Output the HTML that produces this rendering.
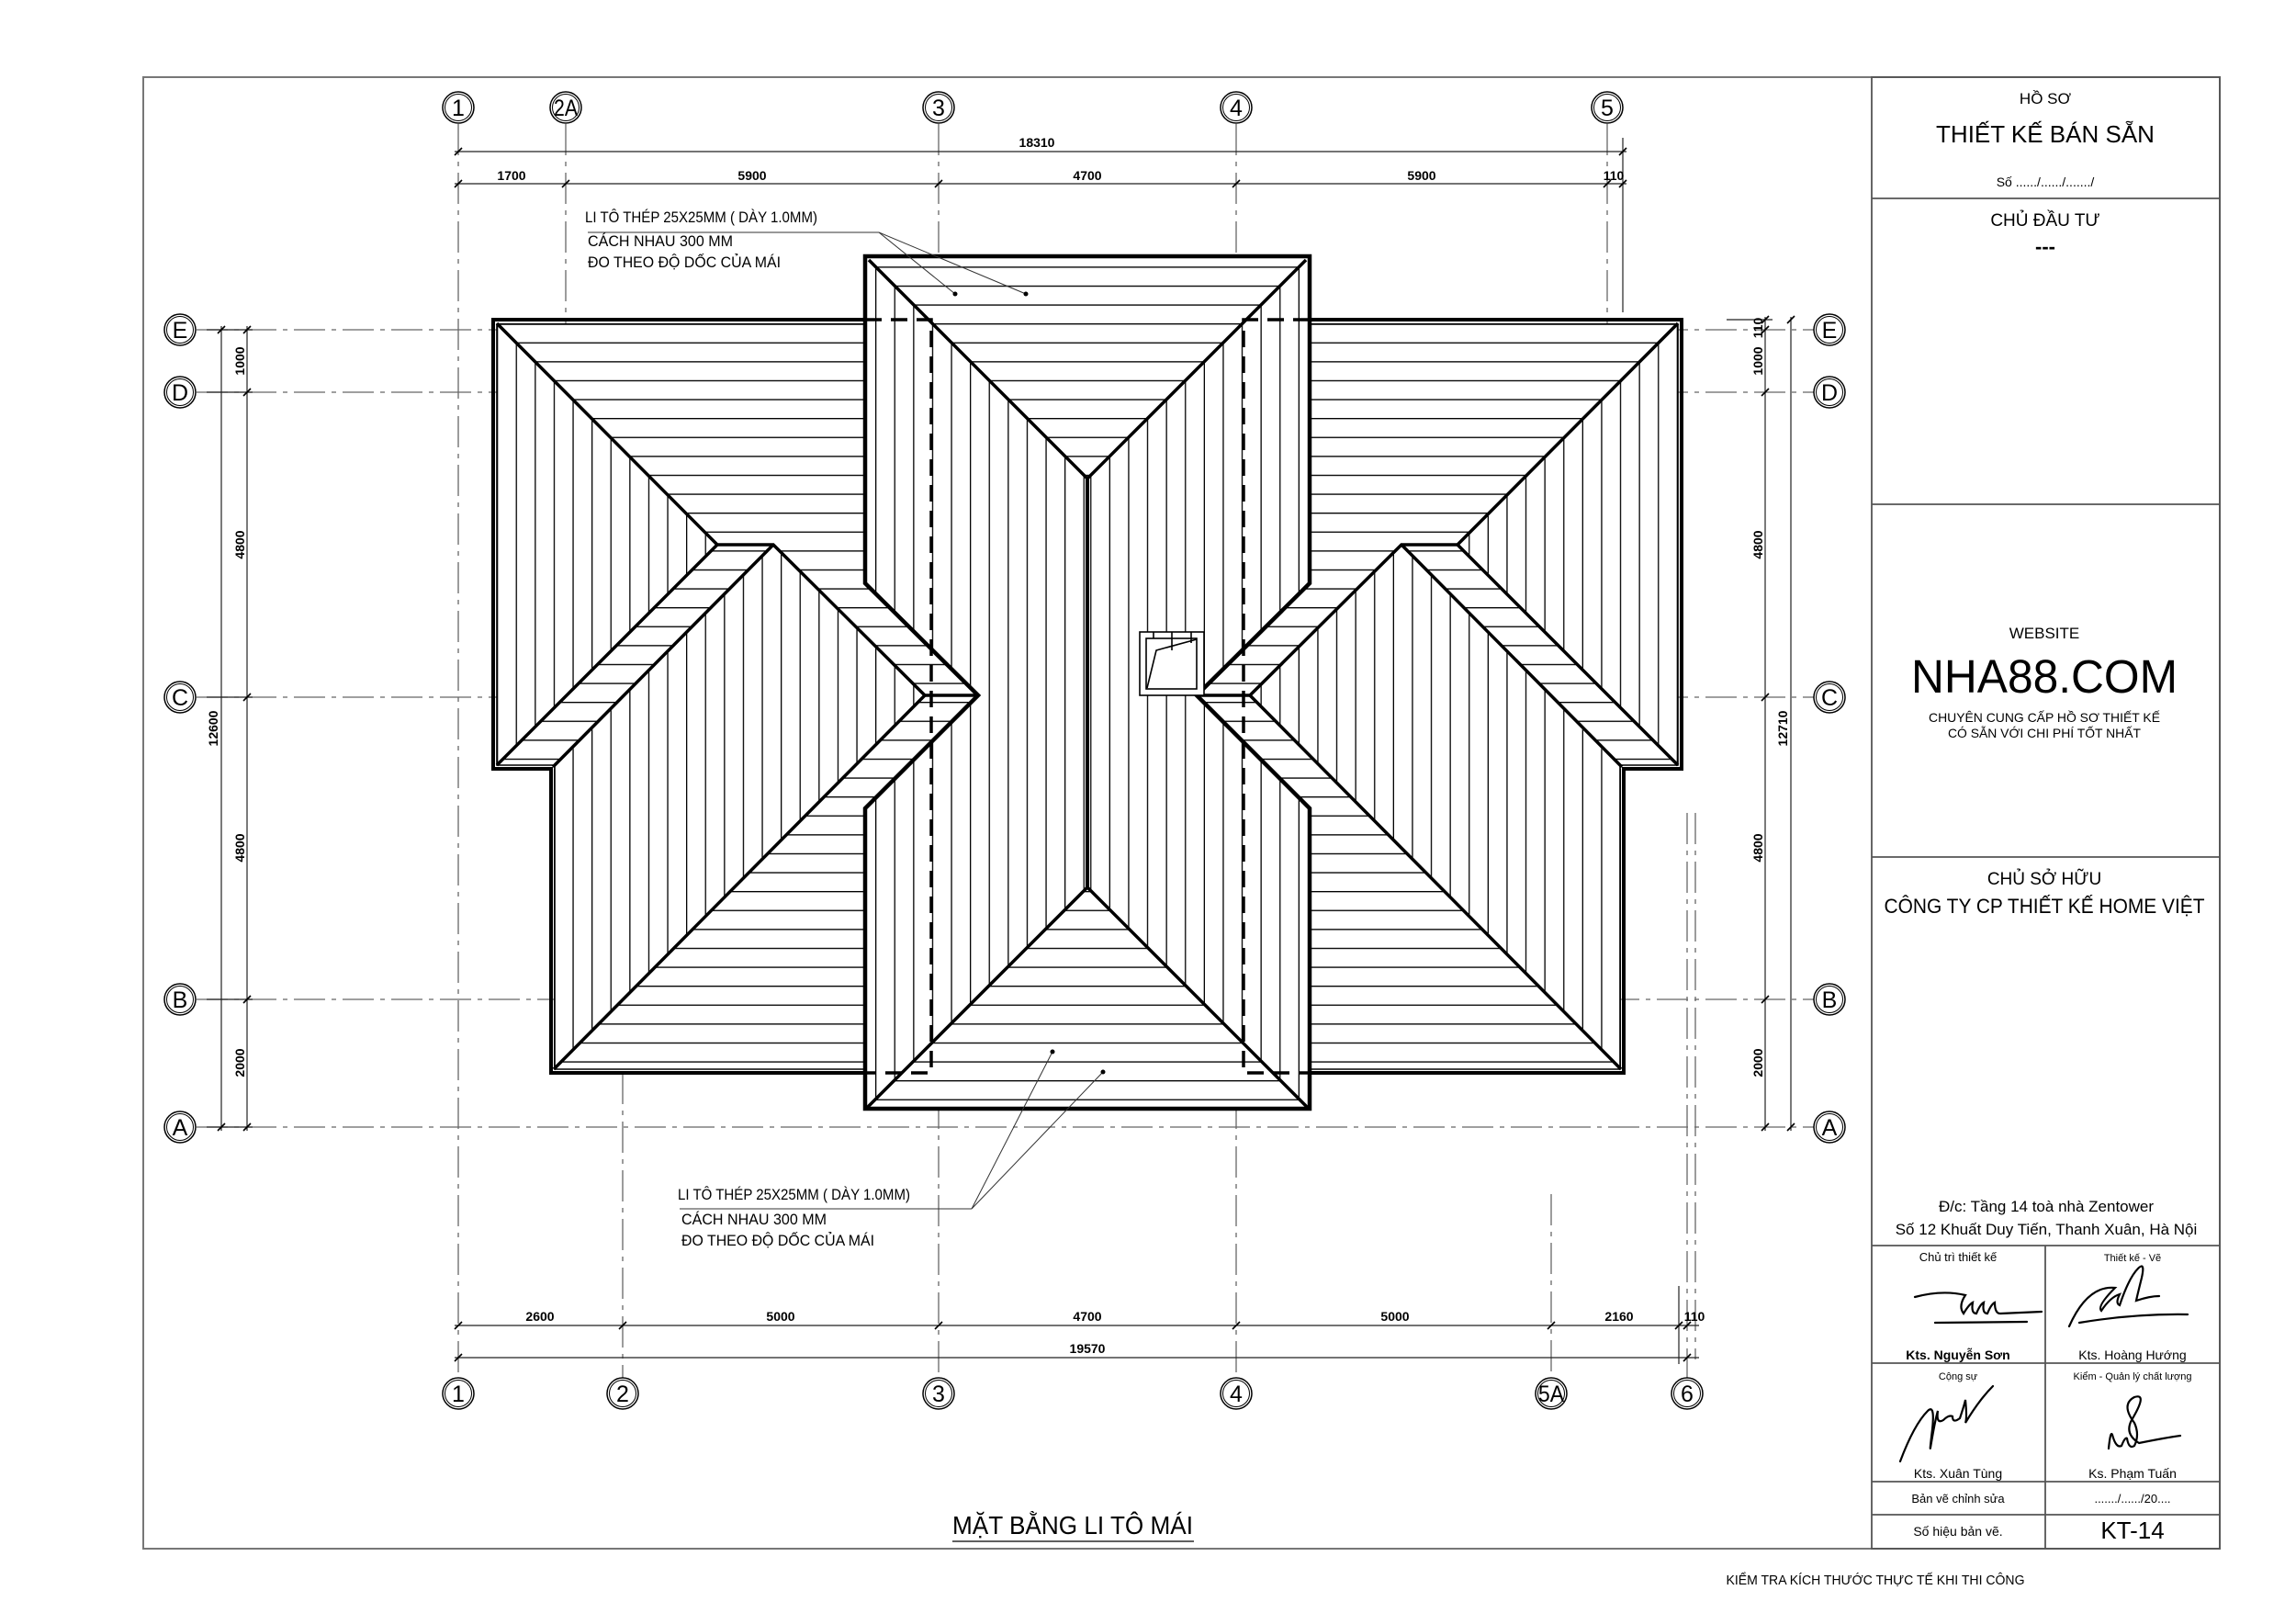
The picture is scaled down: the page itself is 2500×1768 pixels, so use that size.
<!DOCTYPE html>
<html><head><meta charset="utf-8"><style>
html,body{margin:0;padding:0;background:#fff}
svg{display:block}
text{font-family:"Liberation Sans",sans-serif;fill:#000}
</style></head><body>
<svg width="2500" height="1768" viewBox="0 0 2500 1768" xmlns="http://www.w3.org/2000/svg">
<defs>
<pattern id="ph" patternUnits="userSpaceOnUse" width="40" height="20.6" y="352"><rect width="40" height="20.6" fill="#fff"/><line x1="0" y1="0.6" x2="40" y2="0.6" stroke="#000" stroke-width="1.4"/></pattern>
<pattern id="pv" patternUnits="userSpaceOnUse" width="20.6" height="40" x="541"><rect width="20.6" height="40" fill="#fff"/><line x1="0.6" y1="0" x2="0.6" y2="40" stroke="#000" stroke-width="1.4"/></pattern>
<g id="half">
  <!-- center block left half -->
  <polygon points="942,279 1184,519 1184,966 942,1207" fill="url(#pv)"/>
  <polygon points="942,279 1184,279 1184,519" fill="url(#ph)"/>
  <polygon points="942,1207 1184,966 1184,1207" fill="url(#ph)"/>
  <!-- left wing -->
  <polygon points="541,352 942,352 942,635 1065,757 1007,757 842,593 781,593" fill="url(#ph)"/>
  <polygon points="541,352 781,593 541,834" fill="url(#pv)"/>
  <polygon points="781,593 842,593 600,835 541,835" fill="url(#ph)"/>
  <polygon points="842,593 1007,757 603,1164 603,837" fill="url(#pv)"/>
  <polygon points="1007,757 1065,757 942,880 942,822" fill="url(#ph)"/>
  <polygon points="942,822 942,1164 603,1164" fill="url(#ph)"/>
  <!-- thick lines -->
  <g stroke="#000" fill="none" stroke-linejoin="miter">
    <polyline points="1184,279 942,279 942,635 1065,757 942,880 942,1207 1184,1207" stroke-width="4.5"/>
    <polyline points="942,348 537,348 537,837 600,837 600,1168 942,1168" stroke-width="4"/>
    <polyline points="942,353 541,353 541,833 604,833 604,1164 942,1164" stroke-width="1.6"/>
    <line x1="946" y1="283" x2="1184" y2="521" stroke-width="3.5"/>
    <line x1="1184" y1="519" x2="1184" y2="966" stroke-width="4"/>
    <line x1="1184" y1="966" x2="944" y2="1206" stroke-width="3.5"/>
    <polyline points="541,352 781,593 842,593 1007,757 1065,757" stroke-width="3.5"/>
    <line x1="781" y1="593" x2="541" y2="833" stroke-width="3.5"/>
    <line x1="842" y1="593" x2="602" y2="835" stroke-width="3.5"/>
    <line x1="1007" y1="757" x2="603" y2="1164" stroke-width="3.5"/>
    <polyline points="942,348 1014,348 1014,1168 942,1168" stroke-width="3.5" stroke-dasharray="18,10"/>
  </g>
</g>
</defs>

<!-- frame -->
<rect x="156" y="84" width="2261" height="1602" fill="none" stroke="#777" stroke-width="2"/>

<!-- grid lines -->
<g stroke="#666" stroke-width="1.3" stroke-dasharray="34,7,5,7" fill="none">
  <line x1="499" y1="135" x2="499" y2="1500"/>
  <line x1="1022" y1="135" x2="1022" y2="1500"/>
  <line x1="1346" y1="135" x2="1346" y2="1500"/>
  <line x1="616" y1="135" x2="616" y2="560"/>
  <line x1="1750" y1="135" x2="1750" y2="560"/>
  <line x1="678" y1="850" x2="678" y2="1500"/>
  <line x1="1689" y1="1300" x2="1689" y2="1500"/>
  <line x1="1837" y1="885" x2="1837" y2="1500"/>
  <line x1="1846" y1="885" x2="1846" y2="1480"/>
  <line x1="214" y1="359" x2="1975" y2="359"/>
  <line x1="214" y1="427" x2="1975" y2="427"/>
  <line x1="214" y1="759" x2="1975" y2="759"/>
  <line x1="214" y1="1088" x2="1975" y2="1088"/>
  <line x1="214" y1="1227" x2="1975" y2="1227"/>
</g>

<!-- roof -->
<use href="#half"/>
<use href="#half" transform="translate(2368,0) scale(-1,1)"/>

<!-- skylight -->
<g stroke="#000" fill="none" stroke-width="1.6">
  <rect x="1241" y="688" width="70" height="69" fill="#fff"/>
  <rect x="1248" y="695" width="55" height="55"/>
  <polyline points="1249,749 1259,708 1303,696"/>
  <line x1="1256" y1="688" x2="1256" y2="695"/><line x1="1276" y1="688" x2="1276" y2="708"/><line x1="1297" y1="688" x2="1297" y2="700"/>
</g>

<!-- annotations -->
<g stroke="#333" stroke-width="1" fill="none">
  <line x1="640" y1="253" x2="957" y2="253"/>
  <line x1="957" y1="253" x2="1040" y2="320"/>
  <line x1="957" y1="253" x2="1117" y2="320"/>
  <line x1="740" y1="1316" x2="1058" y2="1316"/>
  <line x1="1058" y1="1316" x2="1146" y2="1145"/>
  <line x1="1058" y1="1316" x2="1201" y2="1167"/>
</g>
<circle cx="1040" cy="320" r="2.5"/><circle cx="1117" cy="320" r="2.5"/>
<circle cx="1146" cy="1145" r="2.5"/><circle cx="1201" cy="1167" r="2.5"/>
<g font-size="17" transform="translate(0,0)">
  <text x="637" y="242" textLength="253" lengthAdjust="spacingAndGlyphs">LI TÔ THÉP 25X25MM ( DÀY 1.0MM)</text>
  <text x="640" y="268" textLength="158" lengthAdjust="spacingAndGlyphs">CÁCH NHAU 300 MM</text>
  <text x="640" y="291" textLength="210" lengthAdjust="spacingAndGlyphs">ĐO THEO ĐỘ DỐC CỦA MÁI</text>
  <text x="738" y="1306" textLength="253" lengthAdjust="spacingAndGlyphs">LI TÔ THÉP 25X25MM ( DÀY 1.0MM)</text>
  <text x="742" y="1333" textLength="158" lengthAdjust="spacingAndGlyphs">CÁCH NHAU 300 MM</text>
  <text x="742" y="1356" textLength="210" lengthAdjust="spacingAndGlyphs">ĐO THEO ĐỘ DỐC CỦA MÁI</text>
</g>

<!-- dimension lines -->
<g stroke="#222" stroke-width="1.2" fill="none">
  <line x1="495" y1="165" x2="1771" y2="165"/>
  <line x1="495" y1="200" x2="1771" y2="200"/>
  <line x1="495" y1="1443" x2="1850" y2="1443"/>
  <line x1="495" y1="1478" x2="1850" y2="1478"/>
  <line x1="1767" y1="150" x2="1767" y2="340"/>
  <line x1="1828" y1="1400" x2="1828" y2="1485"/>
  <line x1="241" y1="355" x2="241" y2="1231"/>
  <line x1="269" y1="355" x2="269" y2="1231"/>
  <line x1="1922" y1="345" x2="1922" y2="1231"/>
  <line x1="1950" y1="345" x2="1950" y2="1231"/>
  <line x1="1880" y1="348" x2="1930" y2="348"/>
  <line x1="225" y1="359" x2="275" y2="359"/><line x1="225" y1="427" x2="275" y2="427"/>
  <line x1="225" y1="759" x2="275" y2="759"/><line x1="225" y1="1088" x2="275" y2="1088"/><line x1="225" y1="1227" x2="275" y2="1227"/>
</g>
<g stroke="#000" stroke-width="1.6">
  <path d="M495,169l8,-8M495,204l8,-8M612,204l8,-8M1018,204l8,-8M1342,204l8,-8M1746,204l8,-8M1763,204l8,-8M1763,169l8,-8"/>
  <path d="M495,1447l8,-8M674,1447l8,-8M1018,1447l8,-8M1342,1447l8,-8M1685,1447l8,-8M1824,1447l8,-8M1833,1447l8,-8M495,1482l8,-8M1833,1482l8,-8"/>
  <path d="M237,363l8,-8M265,363l8,-8M265,431l8,-8M265,763l8,-8M265,1092l8,-8M237,1231l8,-8M265,1231l8,-8"/>
  <path d="M1918,352l8,-8M1918,363l8,-8M1918,431l8,-8M1918,763l8,-8M1918,1092l8,-8M1918,1231l8,-8M1946,352l8,-8M1946,1231l8,-8"/>
</g>
<g font-size="14" font-weight="bold" text-anchor="middle">
  <text x="1129" y="160">18310</text>
  <text x="557" y="196">1700</text><text x="819" y="196">5900</text><text x="1184" y="196">4700</text><text x="1548" y="196">5900</text><text x="1757" y="196">110</text>
  <text x="588" y="1438">2600</text><text x="850" y="1438">5000</text><text x="1184" y="1438">4700</text><text x="1519" y="1438">5000</text><text x="1763" y="1438">2160</text><text x="1845" y="1438">110</text>
  <text x="1184" y="1473">19570</text>
  <text transform="translate(266,393) rotate(-90)">1000</text>
  <text transform="translate(266,593) rotate(-90)">4800</text>
  <text transform="translate(266,923) rotate(-90)">4800</text>
  <text transform="translate(266,1157) rotate(-90)">2000</text>
  <text transform="translate(237,793) rotate(-90)">12600</text>
  <text transform="translate(1919,393) rotate(-90)">1000</text>
  <text transform="translate(1919,357) rotate(-90)">110</text>
  <text transform="translate(1919,593) rotate(-90)">4800</text>
  <text transform="translate(1919,923) rotate(-90)">4800</text>
  <text transform="translate(1919,1157) rotate(-90)">2000</text>
  <text transform="translate(1946,793) rotate(-90)">12710</text>
</g>

<!-- grid bubbles -->
<g fill="#fff" stroke="#000">
  <g stroke-width="1.5">
    <circle cx="499" cy="117" r="17"/><circle cx="616" cy="117" r="17"/><circle cx="1022" cy="117" r="17"/><circle cx="1346" cy="117" r="17"/><circle cx="1750" cy="117" r="17"/>
    <circle cx="499" cy="1517" r="17"/><circle cx="678" cy="1517" r="17"/><circle cx="1022" cy="1517" r="17"/><circle cx="1346" cy="1517" r="17"/><circle cx="1689" cy="1517" r="17"/><circle cx="1837" cy="1517" r="17"/>
    <circle cx="196" cy="359" r="17"/><circle cx="196" cy="427" r="17"/><circle cx="196" cy="759" r="17"/><circle cx="196" cy="1088" r="17"/><circle cx="196" cy="1227" r="17"/>
    <circle cx="1992" cy="359" r="17"/><circle cx="1992" cy="427" r="17"/><circle cx="1992" cy="759" r="17"/><circle cx="1992" cy="1088" r="17"/><circle cx="1992" cy="1227" r="17"/>
  </g>
</g>
<g stroke="#000" stroke-width="1" fill="none">
  <circle cx="499" cy="117" r="14.5"/><circle cx="616" cy="117" r="14.5"/><circle cx="1022" cy="117" r="14.5"/><circle cx="1346" cy="117" r="14.5"/><circle cx="1750" cy="117" r="14.5"/>
  <circle cx="499" cy="1517" r="14.5"/><circle cx="678" cy="1517" r="14.5"/><circle cx="1022" cy="1517" r="14.5"/><circle cx="1346" cy="1517" r="14.5"/><circle cx="1689" cy="1517" r="14.5"/><circle cx="1837" cy="1517" r="14.5"/>
  <circle cx="196" cy="359" r="14.5"/><circle cx="196" cy="427" r="14.5"/><circle cx="196" cy="759" r="14.5"/><circle cx="196" cy="1088" r="14.5"/><circle cx="196" cy="1227" r="14.5"/>
  <circle cx="1992" cy="359" r="14.5"/><circle cx="1992" cy="427" r="14.5"/><circle cx="1992" cy="759" r="14.5"/><circle cx="1992" cy="1088" r="14.5"/><circle cx="1992" cy="1227" r="14.5"/>
</g>
<g font-size="25" text-anchor="middle">
  <text x="499" y="126">1</text><text x="616" y="126" textLength="26" lengthAdjust="spacingAndGlyphs">2A</text><text x="1022" y="126">3</text><text x="1346" y="126">4</text><text x="1750" y="126">5</text>
  <text x="499" y="1526">1</text><text x="678" y="1526">2</text><text x="1022" y="1526">3</text><text x="1346" y="1526">4</text><text x="1689" y="1526" textLength="28" lengthAdjust="spacingAndGlyphs">5A</text><text x="1837" y="1526">6</text>
  <text x="196" y="368">E</text><text x="196" y="436">D</text><text x="196" y="768">C</text><text x="196" y="1097">B</text><text x="196" y="1236">A</text>
  <text x="1992" y="368">E</text><text x="1992" y="436">D</text><text x="1992" y="768">C</text><text x="1992" y="1097">B</text><text x="1992" y="1236">A</text>
</g>

<!-- drawing title -->
<text x="1168" y="1670" font-size="28" text-anchor="middle" textLength="262" lengthAdjust="spacingAndGlyphs">MẶT BẰNG LI TÔ MÁI</text>
<line x1="1037" y1="1678" x2="1300" y2="1678" stroke="#000" stroke-width="1.3"/>
<text x="2042" y="1725" font-size="15" text-anchor="middle" textLength="325" lengthAdjust="spacingAndGlyphs">KIỂM TRA KÍCH THƯỚC THỰC TẾ KHI THI CÔNG</text>

<!-- title block -->
<g stroke="#555" stroke-width="1.8" fill="none">
  <rect x="2038" y="84" width="379" height="1602"/>
  <line x1="2038" y1="216" x2="2417" y2="216"/>
  <line x1="2038" y1="549" x2="2417" y2="549"/>
  <line x1="2038" y1="933" x2="2417" y2="933"/>
  <line x1="2038" y1="1356" x2="2417" y2="1356"/>
  <line x1="2038" y1="1484" x2="2417" y2="1484"/>
  <line x1="2038" y1="1613" x2="2417" y2="1613"/>
  <line x1="2038" y1="1649" x2="2417" y2="1649"/>
  <line x1="2227" y1="1356" x2="2227" y2="1686"/>
</g>
<g text-anchor="middle">
  <text x="2227" y="113" font-size="17">HỒ SƠ</text>
  <text x="2227" y="155" font-size="26">THIẾT KẾ BÁN SẴN</text>
  <text x="2227" y="203" font-size="14">Số ....../....../......./</text>
  <text x="2227" y="246" font-size="19">CHỦ ĐẦU TƯ</text>
  <text x="2227" y="276" font-size="22" font-weight="bold">---</text>
  <text x="2226" y="695" font-size="17">WEBSITE</text>
  <text x="2226" y="754" font-size="51" textLength="290" lengthAdjust="spacingAndGlyphs">NHA88.COM</text>
  <text x="2226" y="786" font-size="14" textLength="252" lengthAdjust="spacingAndGlyphs">CHUYÊN CUNG CẤP HỒ SƠ THIẾT KẾ</text>
  <text x="2226" y="803" font-size="14" textLength="210" lengthAdjust="spacingAndGlyphs">CÓ SẴN VỚI CHI PHÍ TỐT NHẤT</text>
  <text x="2226" y="963" font-size="19">CHỦ SỞ HỮU</text>
  <text x="2226" y="994" font-size="22" textLength="349" lengthAdjust="spacingAndGlyphs">CÔNG TY CP THIẾT KẾ HOME VIỆT</text>
  <text x="2228" y="1319" font-size="17">Đ/c: Tầng 14 toà nhà Zentower</text>
  <text x="2228" y="1344" font-size="17">Số 12 Khuất Duy Tiến, Thanh Xuân, Hà Nội</text>
  <text x="2132" y="1373" font-size="13">Chủ trì thiết kế</text>
  <text x="2322" y="1373" font-size="11">Thiết kế - Vẽ</text>
  <text x="2132" y="1480" font-size="14" font-weight="bold">Kts. Nguyễn Sơn</text>
  <text x="2322" y="1480" font-size="14">Kts. Hoàng Hướng</text>
  <text x="2132" y="1502" font-size="11">Cộng sự</text>
  <text x="2322" y="1502" font-size="11">Kiểm - Quản lý chất lượng</text>
  <text x="2132" y="1609" font-size="14">Kts. Xuân Tùng</text>
  <text x="2322" y="1609" font-size="14">Ks. Phạm Tuấn</text>
  <text x="2132" y="1636" font-size="13">Bản vẽ chỉnh sửa</text>
  <text x="2322" y="1636" font-size="13">......./....../20....</text>
  <text x="2132" y="1672" font-size="14">Số hiệu bản vẽ.</text>
  <text x="2322" y="1675" font-size="26">KT-14</text>
</g>
<!-- signatures -->
<g stroke="#000" stroke-width="2.2" fill="none" stroke-linecap="round">
  <path d="M2085,1412 q30,-8 55,-2 q-8,12 -2,20 q6,-10 10,-12 q-2,12 4,12 q4,-10 8,-12 q-2,12 4,12 q4,-10 8,-12 q0,12 6,12 l45,-2"/>
  <path d="M2107,1440 l100,-1"/>
  <path d="M2253,1444 q20,-45 50,-42 q-20,20 -15,25 q10,-15 20,-18 q-5,10 0,12 q10,-30 20,-40 q8,-8 4,10 q-5,20 -6,25 q15,-5 25,-5"/>
  <path d="M2264,1440 q60,-10 118,-9"/>
  <path d="M2069,1591 q15,-40 30,-55 q8,-8 5,20 q-3,25 -2,20 q5,-30 8,-40 q-2,15 6,10 q6,-6 10,-4 q0,8 8,2 q5,-15 6,-20 q2,20 0,25 q15,-25 30,-40"/>
  <path d="M2296,1577 q2,-20 4,-15 q4,15 10,12 q4,-10 6,-8 q2,12 8,8 q6,-12 0,-25 q-15,-20 0,-28 q15,-5 -3,25 q-8,15 8,25 q30,-6 45,-8"/>
</g>
</svg>
</body></html>
